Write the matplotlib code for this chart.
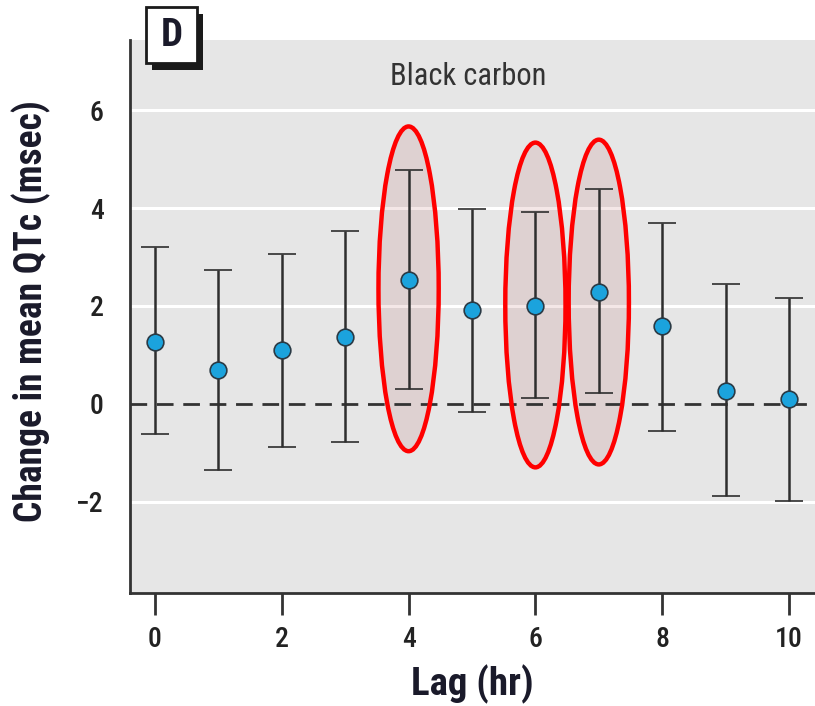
import matplotlib
matplotlib.use("Agg")
import matplotlib.pyplot as plt
from matplotlib import font_manager
from matplotlib.patches import Ellipse, Rectangle

# Estimated change in mean QTc per hourly lag of black carbon exposure
lags = [0, 1, 2, 3, 4, 5, 6, 7, 8, 9, 10]
estimate = [1.27, 0.69, 1.10, 1.37, 2.53, 1.92, 2.00, 2.28, 1.60, 0.27, 0.10]
ci_low = [-0.61, -1.35, -0.88, -0.78, 0.30, -0.17, 0.13, 0.23, -0.56, -1.87, -1.99]
ci_high = [3.20, 2.73, 3.06, 3.53, 4.78, 3.98, 3.91, 4.38, 3.70, 2.44, 2.17]

# Lags singled out with an ellipse, and the vertical centre of each ellipse
highlight_lags = [4, 6, 7]
highlight_centers = [2.35, 2.02, 2.08]

x_ticks = [0, 2, 4, 6, 8, 10]
y_ticks = [-2, 0, 2, 4, 6]
y_tick_labels = ["\u22122", "0", "2", "4", "6"]

# pick a condensed sans family if one is installed
available = {f.name for f in font_manager.fontManager.ttflist}
preferred = ["Roboto Condensed", "Archivo Narrow", "PT Sans Narrow", "Barlow Semi Condensed",
             "Encode Sans Condensed", "IBM Plex Sans Condensed", "Liberation Sans Narrow",
             "Liberation Sans"]
narrow = next(f for f in preferred if f in available or f == "Liberation Sans")
fam = [narrow, "DejaVu Sans"]

W, H = 815, 706
fig = plt.figure(figsize=(W / 100, H / 100), dpi=100)
ax = fig.add_axes([130 / W, 1 - 593 / H, 685 / W, 553 / H])
ax.set_facecolor("#e6e6e6")

ax.set_xlim(-0.394, 10.41)
ax.set_ylim(-3.86, 7.43)

# white horizontal guides, dashed reference at zero
for yv in y_ticks:
    if yv != 0:
        ax.axhline(yv, color="white", lw=2.2, zorder=1)
ax.axhline(0, color="#333333", lw=2, ls=(0, (6, 3.5)), zorder=2)

# highlight ellipses (fill below, outline above)
for lx, cy in zip(highlight_lags, highlight_centers):
    ax.add_patch(Ellipse((lx, cy), 0.95, 6.63, facecolor=(0.6, 0.1, 0.1, 0.1),
                         edgecolor="none", zorder=1.5))
    ax.add_patch(Ellipse((lx, cy), 0.95, 6.63, facecolor="none",
                         edgecolor="#ff0000", lw=3.2, zorder=5))

yerr = [[e - lo for e, lo in zip(estimate, ci_low)],
        [hi - e for e, hi in zip(estimate, ci_high)]]
ax.errorbar(lags, estimate, yerr=yerr, fmt="o", color="#333333", ecolor="#2e2e2e",
            elinewidth=1.8, capsize=10, capthick=1.8, markersize=12,
            markerfacecolor="#1ba3dd", markeredgecolor="#2a3a45", markeredgewidth=1.2,
            zorder=4)

for side in ("top", "right"):
    ax.spines[side].set_visible(False)
for side in ("left", "bottom"):
    ax.spines[side].set_color("#333333")
    ax.spines[side].set_linewidth(2)

ax.set_xticks(x_ticks)
ax.set_xticklabels([str(t) for t in x_ticks], fontsize=20, family=fam,
                   fontweight="medium", color="#222222")
ax.set_yticks(y_ticks)
ax.set_yticklabels(y_tick_labels, fontsize=20, family=fam, fontweight="medium", color="#222222")
ax.tick_params(axis="x", length=16, width=2, color="#333333", pad=8)
ax.tick_params(axis="y", length=0, pad=19)

ax.set_xlabel("Lag (hr)", fontsize=28, family=fam, fontweight="bold", color="#1a1a2a", labelpad=8)
ax.set_ylabel("Change in mean QTc (msec)", fontsize=27, family=fam, fontweight="bold",
              color="#1a1a2a")
ax.yaxis.set_label_coords(-0.115, 0.51)

ax.text(0.494, 0.96, "Black carbon", transform=ax.transAxes, ha="center", va="top",
        fontsize=22, family=fam, color="#333333")

# panel letter box with drop shadow
fig.patches.append(Rectangle((152 / W, 1 - 70 / H), 51 / W, 56 / H, transform=fig.transFigure,
                             facecolor="#1a1a1a", edgecolor="none", zorder=10))
fig.patches.append(Rectangle((146 / W, 1 - 63 / H), 51 / W, 56 / H, transform=fig.transFigure,
                             facecolor="white", edgecolor="#1a1a1a", lw=2, zorder=11))
fig.text(171.5 / W, 1 - 35 / H, "D", ha="center", va="center", fontsize=28,
         fontweight="bold", family=fam, color="#1a1a2a", zorder=12)

fig.savefig("out.png", dpi=100)
